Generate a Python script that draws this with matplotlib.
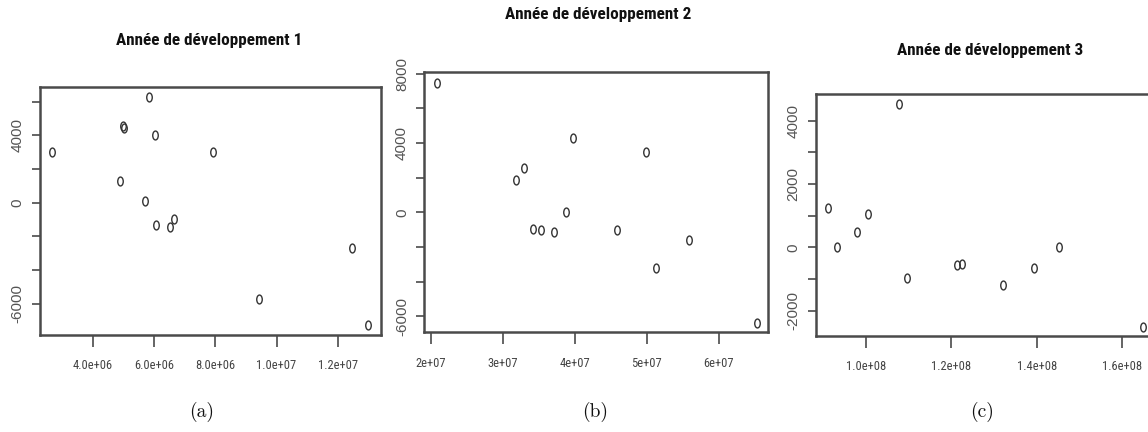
import numpy as np
import matplotlib
matplotlib.use("Agg")
import matplotlib.pyplot as plt
from matplotlib.path import Path
from matplotlib import font_manager as fm

# ---- data ----
titles = ["Année de développement 1", "Année de développement 2", "Année de développement 3"]
captions = ["(a)", "(b)", "(c)"]

a_x = [2.68e6, 5.84e6, 5.00e6, 5.03e6, 6.02e6, 7.94e6, 4.89e6, 5.70e6, 6.08e6, 6.51e6, 6.65e6, 12.47e6, 9.44e6, 12.99e6]
a_y = [2990, 6290, 4550, 4450, 4000, 2990, 1270, 80, -1340, -1460, -980, -2670, -5710, -7270]

b_x = [2.09e7, 3.19e7, 3.29e7, 3.98e7, 3.42e7, 3.53e7, 3.71e7, 3.88e7, 4.59e7, 4.99e7, 5.13e7, 5.59e7, 6.53e7]
b_y = [7470, 1850, 2580, 4280, -980, -1040, -1120, 0, -1040, 3470, -3200, -1600, -6420]

c_x = [0.911e8, 0.931e8, 0.980e8, 1.005e8, 1.078e8, 1.095e8, 1.214e8, 1.224e8, 1.322e8, 1.393e8, 1.453e8, 1.649e8]
c_y = [1230, 0, 480, 1050, 4520, -980, -560, -530, -1190, -660, 0, -2510]

a_xticks = [4e6, 6e6, 8e6, 10e6, 12e6]
a_xlabels = ["4.0e+06", "6.0e+06", "8.0e+06", "1.0e+07", "1.2e+07"]
a_yticks = [-6000, -4000, -2000, 0, 2000, 4000, 6000]
a_ylabels = ["-6000", "", "", "0", "", "4000", ""]

b_xticks = [2e7, 3e7, 4e7, 5e7, 6e7]
b_xlabels = ["2e+07", "3e+07", "4e+07", "5e+07", "6e+07"]
b_yticks = [-6000, -4000, -2000, 0, 2000, 4000, 6000, 8000]
b_ylabels = ["-6000", "", "", "0", "", "4000", "", "8000"]

c_xticks = [1.0e8, 1.2e8, 1.4e8, 1.6e8]
c_xlabels = ["1.0e+08", "1.2e+08", "1.4e+08", "1.6e+08"]
c_yticks = [-2000, -1000, 0, 1000, 2000, 3000, 4000]
c_ylabels = ["-2000", "", "0", "", "2000", "", "4000"]

# ---- layout (pixel boxes: left, top, right, bottom) ----
W, H = 1148, 432
boxes = [(40, 87, 381, 335), (424.3, 71.7, 768, 332.3), (815.7, 94.3, 1164, 336)]
xlims = [(2.28e6, 13.41e6), (1.911e7, 6.685e7), (8.822e7, 1.698e8)]
ylims = [(-7845, 6861), (-6936, 8127), (-2803, 4835)]
title_pos = [(209, 40), (598, 15), (990, 50)]
cap_pos = [(202, 412), (595, 412), (982, 412)]

names = {f.name for f in fm.fontManager.ttflist}
cond = None
for cand in ["Liberation Sans Narrow", "Roboto Condensed", "Open Sans Condensed",
             "DejaVu Sans Condensed", "Noto Sans Condensed"]:
    if cand in names:
        cond = cand
        break
if cond is None:
    narrow_kw = dict(fontfamily=["DejaVu Sans"], fontstretch="condensed")
    scale = 0.85
else:
    narrow_kw = dict(fontfamily=[cond, "DejaVu Sans"])
    scale = 1.0
regular = ["Liberation Sans", "DejaVu Sans"]

circ = Path.unit_circle()
ell = Path(circ.vertices * np.array([0.62, 1.0]), circ.codes)

fig = plt.figure(figsize=(W / 100, H / 100), dpi=100)
fig.patch.set_facecolor("white")

datasets = [(a_x, a_y, a_xticks, a_xlabels, a_yticks, a_ylabels),
            (b_x, b_y, b_xticks, b_xlabels, b_yticks, b_ylabels),
            (c_x, c_y, c_xticks, c_xlabels, c_yticks, c_ylabels)]

edge = "#4a4a4a"
for i, (xs, ys, xt, xl, yt, yl) in enumerate(datasets):
    l, t, r, b = boxes[i]
    ax = fig.add_axes([l / W, 1 - b / H, (r - l) / W, (b - t) / H])
    ax.plot(xs, ys, linestyle="none", marker=ell, markersize=6.4,
            markerfacecolor="none", markeredgecolor="#333333", markeredgewidth=1.0)
    ax.set_xlim(*xlims[i])
    ax.set_ylim(*ylims[i])
    ax.set_xticks(xt)
    ax.set_xticklabels(xl, fontsize=9 * scale, color="#444444", **narrow_kw)
    ax.set_yticks(yt)
    ax.set_yticklabels(yl, fontfamily=regular, fontsize=11, color="#555555",
                       rotation=90, va="center")
    ax.tick_params(axis="x", length=8.5, width=1.2, color=edge, pad=9)
    ax.tick_params(axis="y", length=6, width=1.2, color=edge, pad=5)
    for s in ax.spines.values():
        s.set_color(edge)
        s.set_linewidth(1.8)
    tx, ty = title_pos[i]
    fig.text(tx / W, 1 - ty / H, titles[i], ha="center", va="center",
             fontweight="bold", fontsize=12.3 * scale, color="#111111", **narrow_kw)
    cx, cy = cap_pos[i]
    fig.text(cx / W, 1 - cy / H, captions[i], ha="center", va="center",
             fontfamily=["cmr10", "DejaVu Serif"], fontsize=14, color="#111111")

fig.savefig("out.png", dpi=100)
